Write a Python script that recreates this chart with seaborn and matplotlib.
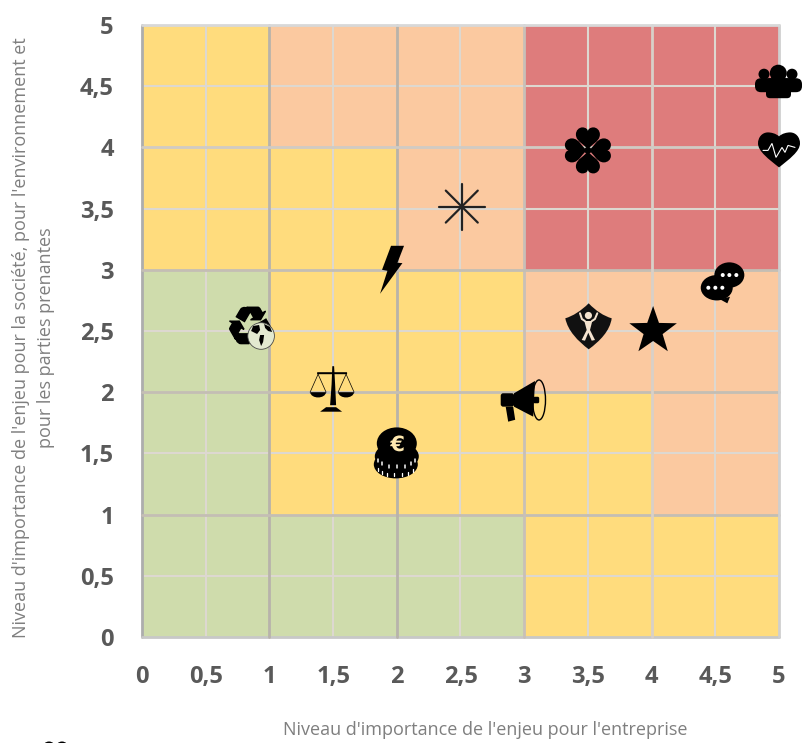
import numpy as np
import seaborn as sns
import matplotlib
matplotlib.use("Agg")
import matplotlib.pyplot as plt
from matplotlib.colors import ListedColormap
from matplotlib.patches import BoxStyle, PathPatch
from matplotlib.path import Path
from matplotlib.textpath import TextPath
from matplotlib.font_manager import FontProperties
from matplotlib.transforms import Affine2D, ScaledTranslation

# risk level of each cell, first row is the bottom one
# 0 green, 1 yellow, 2 orange, 3 red
levels = [
    [0, 0, 0, 1, 1],
    [0, 1, 1, 1, 2],
    [0, 1, 1, 2, 2],
    [1, 1, 2, 3, 3],
    [1, 2, 2, 3, 3],
]
level_colors = ["#CFDCAC", "#FFDC7D", "#FBC9A0", "#DE7C7C"]

tick_values = [0, 0.5, 1, 1.5, 2, 2.5, 3, 3.5, 4, 4.5, 5]
tick_labels = ["0", "0,5", "1", "1,5", "2", "2,5", "3", "3,5", "4", "4,5", "5"]

# issues on the matrix
issue_icons = ["people", "heart", "clover", "asterisk", "bolt", "recycle",
               "scales", "coins", "megaphone", "shield", "star", "chat"]
issue_x = [5, 5, 3.5, 2.51, 1.95, 0.88, 1.5, 2, 3, 3.5, 4, 4.6]
issue_y = [4.5, 4, 4, 3.5, 3, 2.5, 2, 1.5, 1.93, 2.5, 2.5, 2.9]

xlabel = "Niveau d'importance de l'enjeu pour l'entreprise"
ylabel = ("Niveau d'importance de l'enjeu pour la société, pour l'environnement et\n"
          "pour les parties prenantes")

W, H = 803, 743
sns.set_theme(style="white")
plt.rcParams["font.family"] = ["Open Sans", "DejaVu Sans"]

fig = plt.figure(figsize=(W / 100, H / 100), dpi=100)
ax = fig.add_axes([142 / W, (H - 637) / H, 637 / W, 612 / H])

sns.heatmap(levels, cmap=ListedColormap(level_colors), vmin=-0.5, vmax=3.5,
            cbar=False, ax=ax, square=False)
ax.set_xlim(0, 5)
ax.set_ylim(0, 5)

ax.set_xticks(tick_values)
ax.set_yticks(tick_values)
ax.set_xticklabels(tick_labels, rotation=0)
ax.set_yticklabels(tick_labels, rotation=0)
ax.tick_params(axis="both", length=0, labelsize=17, labelcolor="#595959")
ax.tick_params(axis="x", pad=20)
ax.tick_params(axis="y", pad=20.3)
for lab in ax.get_xticklabels() + ax.get_yticklabels():
    lab.set_fontweight("bold")
for lab in ax.get_yticklabels():
    lab.set_va("center_baseline")

# half steps are light, whole steps darker and not all the same
half_col = "#DDD8D0"
v_cols = ["#ADADAD", "#B8B3AB", "#B8B3AB", "#C8C0B8", "#D8D0C8", "#CFCFCF"]
h_cols = ["#C8C8C8", "#C4BEB4", "#C4BEB4", "#C4BEB4", "#D0CBC4", "#D8D8D8"]
for v in tick_values:
    if float(v).is_integer():
        ax.axvline(v, color=v_cols[int(v)], lw=2, zorder=1.6, clip_on=False)
        ax.axhline(v, color=h_cols[int(v)], lw=2, zorder=1.6, clip_on=False)
    else:
        ax.axvline(v, color=half_col, lw=1.5, zorder=1.5)
        ax.axhline(v, color=half_col, lw=1.5, zorder=1.5)

ax.set_xlabel(xlabel, fontsize=13, color="#7F7F7F")
ax.xaxis.set_label_coords((485 - 142) / 637, (637 - 730) / 612, transform=ax.transAxes)
ax.xaxis.label.set_va("center")
ax.set_ylabel(ylabel, fontsize=13, color="#7F7F7F", linespacing=1.55)
ax.yaxis.set_label_coords((33.5 - 142) / 637, (637 - 338) / 612, transform=ax.transAxes)
ax.yaxis.label.set_va("center")


def circ(cx, cy, rx, ry=None):
    return Path.unit_circle().transformed(Affine2D().scale(rx, ry or rx).translate(cx, cy))


def poly(pts):
    return Path(list(pts) + [pts[0]], closed=True)


def line(pts):
    return Path(pts)


def rrect(x0, y0, x1, y1, r):
    return BoxStyle("round", pad=0, rounding_size=r)(x0, y0, x1 - x0, y1 - y0, 1)


def bez(start, *curves):
    verts = [start]
    for c in curves:
        verts += c
    codes = [Path.MOVETO] + [Path.CURVE4] * (len(verts) - 1)
    return Path(verts, codes)


def glyph(s, size, cx, cy, weight="normal", family="DejaVu Sans"):
    p = TextPath((0, 0), s, size=size, prop=FontProperties(family=family, weight=weight))
    b = p.get_extents()
    return p.transformed(Affine2D().translate(cx - (b.x0 + b.x1) / 2, cy - (b.y0 + b.y1) / 2))


def coin_ticks(cx, cy, rx, ry, angles):
    # short strokes along the lower rim of a coin
    verts, codes = [], []
    for a in np.radians(angles):
        px, py = cx + rx * np.cos(a), cy + ry * np.sin(a)
        verts += [(px, py), (px, py - 3)]
        codes += [Path.MOVETO, Path.LINETO]
    return Path(verts, codes)


heart_path = bez((0, 11),
                 [(-3, 14), (-8, 15), (-11, 15)],
                 [(-17, 15), (-21, 10), (-21, 4)],
                 [(-21, -4), (-10, -12), (0, -20)],
                 [(10, -12), (21, -4), (21, 4)],
                 [(21, 10), (17, 15), (11, 15)],
                 [(8, 15), (3, 14), (0, 11)])
petal = bez((0, 0),
            [(-2, 6), (-12, 8), (-12, 16)],
            [(-12, 20), (-9, 23), (-5.5, 23)],
            [(-2, 23), (0, 21), (0, 19)],
            [(0, 21), (2, 23), (5.5, 23)],
            [(9, 23), (12, 20), (12, 16)],
            [(12, 8), (2, 6), (0, 0)])

# each icon is a list of (path, colour, line width), line width 0 means filled
K = "black"
Wt = "white"
Pale = "#F4E3CF"
icons = {
    "people": [
        (circ(-15, 12, 5.5), K, 0), (circ(13, 12, 5.5), K, 0), (circ(-0.7, 13, 8.5), K, 0),
        (rrect(-24, -6, 23, 8, 6), K, 0), (rrect(-13, -12, 12, 8, 4), K, 0),
    ],
    "heart": [
        (heart_path, K, 0),
        (line([(-16, -3), (-11, -3), (-7, 4), (-3, -10), (3, 0), (6, -5), (9, 2), (16, 0)]), Wt, 1.1),
    ],
    "clover": [
        (petal.transformed(Affine2D().rotate_deg(a).translate(0, -3)), K, 0) for a in (0, 90, 180, 270)
    ] + [(circ(0, -3, 3.5), K, 0)],
    "asterisk": [
        (line([(-23, 2), (23, 2)]), "#222222", 2.2), (line([(0, -21), (0, 25)]), "#222222", 2.2),
        (line([(-16, -14), (16, 18)]), "#222222", 2.2), (line([(-16, 18), (16, -14)]), "#222222", 2.2),
    ],
    "bolt": [
        (poly([(0.6, 24), (13.6, 24), (7, 7), (12, 6.7), (-10.4, -24), (-3, -1), (-8.4, 0)]), K, 0),
    ],
    "recycle": [
        (glyph("\u267b", 56, -4, 4), K, 1.5),
        (glyph("\u267b", 56, -4, 4), K, 0),
        (circ(7, -5, 13.3), "#E3E9D0", 0),
        (circ(7, -5, 13.3), "#444444", 0.8),
        (poly([(-1, 5), (5, 6), (6, 1), (3, -3), (1, -2), (-3, 0)]), K, 0),
        (poly([(6, -4), (10, -4), (9, -11), (7, -15), (5, -9)]), K, 0),
        (poly([(10, 7), (16, 4), (18, -1), (14, 0), (11, 3)]), K, 0),
    ],
    "scales": [
        (poly([(-0.8, 26), (1, 26), (2, 8), (3, -13), (-3, -13), (-1.5, 8)]), K, 0),
        (rrect(-16, 18, 14, 20, 0.5), K, 0),
        (poly([(-7, -15), (3, -15), (9, -19.5), (-13, -19.5)]), K, 0),
        (line([(-15, 18), (-23, 0)]), K, 0.7), (line([(-15, 18), (-7, 0)]), K, 0.7),
        (line([(13, 18), (5, 0)]), K, 0.7), (line([(13, 18), (21, 0)]), K, 0.7),
        (bez((-23, 0), [(-22, -7), (-8, -7), (-7, 0)]), K, 0),
        (bez((5, 0), [(6, -7), (20, -7), (21, 0)]), K, 0),
    ],
    "coins": [
        (circ(-1, -11, 22, 14), K, 0),
        (coin_ticks(-1, -12, 19, 8, range(200, 350, 22)), Wt, 1.3),
        (circ(0, -3, 22, 14), K, 0),
        (coin_ticks(0, -3, 19, 9, range(195, 350, 25)), Wt, 1.5),
        (circ(0, 10, 20, 16), K, 0),
        (glyph("\u20ac", 21, 0, 10, weight="bold"), "#FFE9B0", 0),
    ],
    "megaphone": [
        (poly([(-10.2, 7.5), (10.8, 19.8), (9, -15.9), (-10.2, -5.9)]), K, 0),
        (rrect(-23.5, -5.9, -10, 7.5, 2.5), K, 0),
        (poly([(-18.5, -6), (-11, -6), (-9, -19), (-16, -20.9)]), K, 0),
        (rrect(9, -2.5, 15, 4, 1.5), K, 0),
        (circ(14.8, 0.8, 6.5, 20), K, 1.4),
    ],
    "shield": [
        (bez((0.8, 27.7),
             [(8, 20), (16, 15), (23.8, 12.7)],
             [(22, 0), (12, -10), (0.8, -18.3)],
             [(-10, -10), (-20, 0), (-22.6, 12.7)],
             [(-15, 15), (-7, 20), (0.8, 27.7)]), "#111111", 0),
        (circ(0.5, 15.5, 3.6), Pale, 0),
        (poly([(-3.6, 10), (4.4, 10), (2.1, 1), (7.1, -9), (3.8, -9.7), (0.4, -1.7),
               (-2.9, -9.7), (-6.2, -9), (-1.2, 1)]), Pale, 0),
        (line([(-7.9, 17.7), (-6, 12), (-3, 10)]), Pale, 2),
        (line([(9.4, 17.7), (7, 12), (4, 10)]), Pale, 2),
    ],
    "star": [
        (Path.unit_regular_star(5, 0.4).transformed(Affine2D().scale(25).translate(1.5, 0)), K, 0),
    ],
    "chat": [
        (circ(1.3, 7, 15, 12.7), K, 0),
        (circ(-11.3, -5.7, 16, 12.7), K, 0),
        (poly([(-8, -17.3), (2, -14.7), (-0.7, -21.3)]), K, 0),
    ] + [(circ(dx, 7, 2), Wt, 0) for dx in (-5.3, 1.3, 8.3)]
      + [(circ(dx, -5.7, 2), Wt, 0) for dx in (-19.7, -12.7, -5.7)],
}

for name, x, y in zip(issue_icons, issue_x, issue_y):
    place = ScaledTranslation(x, y, ax.transData)
    for path, col, lw in icons[name]:
        if lw > 0:
            patch = PathPatch(path, fc="none", ec=col, lw=lw * 0.72, capstyle="round")
        else:
            patch = PathPatch(path, fc=col, ec="none", lw=0)
        patch.set_transform(Affine2D() + place)
        patch.set_clip_on(False)
        patch.set_zorder(5)
        ax.add_patch(patch)

# tops of a cropped icon at the bottom edge of the picture
for cx in (49, 62):
    fig.add_artist(PathPatch(circ(cx, -5, 6.5, 6.5), fc="black", ec="none", transform=Affine2D()))

fig.savefig("out.png", dpi=100)
